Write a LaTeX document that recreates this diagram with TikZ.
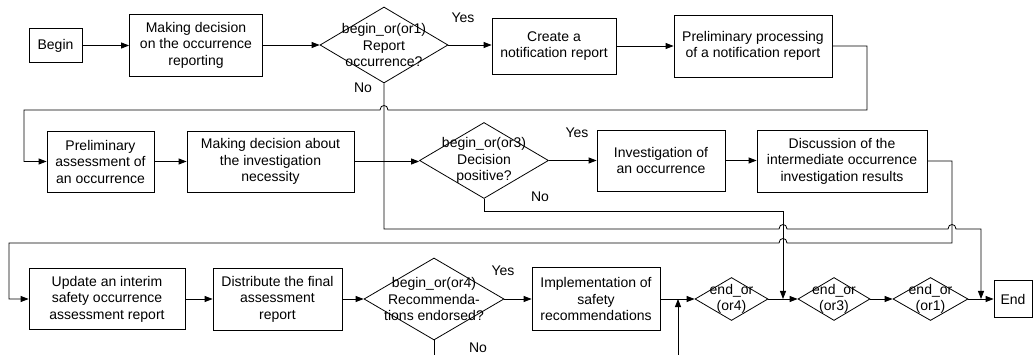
\documentclass[tikz,border=0pt]{standalone}
\usepackage{fontspec}
\setmainfont{Liberation Sans}
\usetikzlibrary{shapes.geometric,arrows.meta,calc}
\newcommand\dfont{\fontsize{14}{16.5}\selectfont}
\begin{document}
\begin{tikzpicture}[x=1pt,y=-1pt,
  box/.style={draw, line width=0.8pt, align=center, inner sep=0pt, font=\dfont},
  dia/.style={draw, diamond, line width=0.8pt, inner sep=0pt},
  dtext/.style={align=center, inner sep=0pt, font=\dfont},
  lbl/.style={inner sep=0pt, font=\dfont},
  conn/.style={draw, line width=0.8pt},
  arr/.style={conn, -{Triangle[length=8pt,width=6pt]}}]
\useasboundingbox (0,0) rectangle (1033,355);
% row 1
\node[box, minimum width=53, minimum height=34] (begin) at (55.5,45.5) {Begin};
\node[box, minimum width=133, minimum height=62] (mk1) at (196,45) {Making decision\\on the occurrence\\reporting};
\node[dia, minimum width=128, minimum height=76] (or1) at (384,45) {};
\node[dtext] (or1t) at (or1.center) {begin\_or(or1)\\Report\\occurrence?};
\node[box, minimum width=124, minimum height=56] (create) at (554,46) {Create a\\notification report};
\node[box, minimum width=158, minimum height=62] (pproc) at (753,46) {Preliminary processing\\of a notification report};
% row 2
\node[box, minimum width=107, minimum height=61] (passess) at (100.5,161.5) {Preliminary\\assessment of\\an occurrence};
\node[box, minimum width=167, minimum height=61] (mk2) at (270.5,161.5) {Making decision about\\the investigation\\necessity};
\node[dia, minimum width=129, minimum height=76] (or3) at (484,160.5) {};
\node[dtext] (or3t) at (or3.center) {begin\_or(or3)\\Decision\\positive?};
\node[box, minimum width=128, minimum height=61] (invest) at (661,160.5) {Investigation of\\an occurrence};
\node[box, minimum width=170, minimum height=62] (discuss) at (842,161) {Discussion of the\\intermediate occurrence\\investigation results};
% row 3
\node[box, minimum width=156, minimum height=61] (update) at (107,299) {Update an interim\\safety occurrence\\assessment report};
\node[box, minimum width=129, minimum height=62] (distr) at (277.5,299) {Distribute the final\\assessment\\report};
\node[dia, minimum width=140, minimum height=82] (or4) at (434,299) {};
\node[dtext] (or4t) at (or4.center) {begin\_or(or4)\\Recommenda-\\tions endorsed?};
\node[box, minimum width=128, minimum height=63] (impl) at (596,299) {Implementation of\\safety\\recommendations};
\node[dia, minimum width=73, minimum height=43] (eor4) at (731.5,299) {};
\node[dtext] (eor4t) at (eor4.center) {end\_or\\(or4)};
\node[dia, minimum width=72, minimum height=43] (eor3) at (834,299) {};
\node[dtext] (eor3t) at (eor3.center) {end\_or\\(or3)};
\node[dia, minimum width=75, minimum height=43] (eor1) at (930.5,299) {};
\node[dtext] (eor1t) at (eor1.center) {end\_or\\(or1)};
\node[box, minimum width=38, minimum height=37] (endn) at (1013,299) {End};
% labels
\node[lbl] (yes1) at (463,18) {Yes};
\node[lbl] (no1) at (363,88) {No};
\node[lbl] (yes3) at (577,133) {Yes};
\node[lbl] (no3) at (540,197) {No};
\node[lbl] (yes4) at (503,271) {Yes};
\node[lbl] (no4) at (478,348) {No};
% coordinates
\coordinate (r1) at (867,110);
\coordinate (l1) at (24,110);
\coordinate (h1) at (or1.south |- r1);
\coordinate (r2) at (952,243);
\coordinate (l2) at (9,243);
\coordinate (v3) at (783,211);
\coordinate (h2) at (v3 |- r2);
\coordinate (n1a) at (384,229);
\coordinate (n1b) at (981,229);
\coordinate (h3) at (v3 |- n1a);
\coordinate (h4) at (r2 |- n1a);
\coordinate (j1) at (n1b |- eor1.east);
\coordinate (j3) at (v3 |- eor4.east);
\coordinate (b4) at (434,355);
\coordinate (b5) at (678,355);
\coordinate (j5) at (b5 |- impl.east);
% row 1 connectors
\draw[arr] (begin.east) -- (begin.east -| mk1.west);
\draw[arr] (mk1.east) -- (or1.west);
\draw[arr] (or1.east) -- (or1.east -| create.west);
\draw[arr] (create.east) -- (create.east -| pproc.west);
\draw[arr] (pproc.east) -| (r1) -- ($(h1)+(4,0)$) .. controls ($(h1)+(4,-6)$) and ($(h1)+(-4,-6)$) .. ($(h1)+(-4,0)$) -- (l1) |- (passess.west);
% row 2 connectors
\draw[arr] (passess.east) -- (mk2.west);
\draw[arr] (mk2.east) -- (mk2.east -| or3.west);
\draw[arr] (or3.east) -- (or3.east -| invest.west);
\draw[arr] (invest.east) -- (invest.east -| discuss.west);
\draw[arr] (discuss.east) -| (r2) -- ($(h2)+(4,0)$) .. controls ($(h2)+(4,-6)$) and ($(h2)+(-4,-6)$) .. ($(h2)+(-4,0)$) -- (l2) |- (update.west);
% row 3 connectors
\draw[arr] (update.east) -- (update.east -| distr.west);
\draw[arr] (distr.east) -- (distr.east -| or4.west);
\draw[arr] (or4.east) -- (or4.east -| impl.west);
\draw[arr] (impl.east) -- (impl.east -| eor4.west);
\draw[arr] (eor4.east) -- (eor3.west);
\draw[arr] (eor3.east) -- (eor1.west);
\draw[arr] (eor1.east) -- (eor1.east -| endn.west);
% No branches
\draw[arr] (or1.south) -- (n1a) -- ($(h3)+(-4,0)$) .. controls ($(h3)+(-4,-6)$) and ($(h3)+(4,-6)$) .. ($(h3)+(4,0)$) -- ($(h4)+(-4,0)$) .. controls ($(h4)+(-4,-6)$) and ($(h4)+(4,-6)$) .. ($(h4)+(4,0)$) -- (n1b) -- (j1);
\draw[arr] (or3.south) |- (v3) -- (j3);
\draw[conn] (or4.south) -- (b4);
\draw[arr] (b5) -- (j5);
\end{tikzpicture}
\end{document}
